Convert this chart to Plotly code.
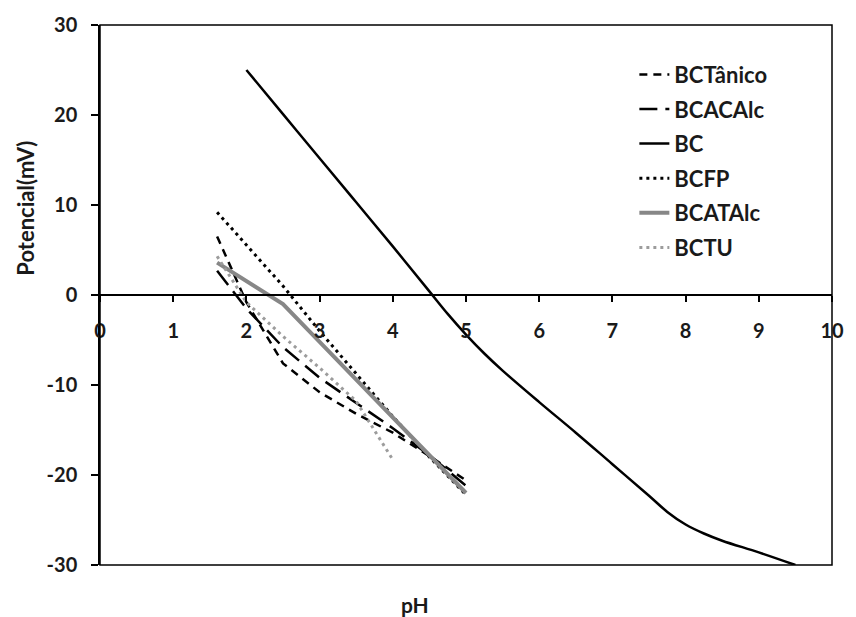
import plotly.graph_objects as go

# ---- data ----
ph_short = [1.6, 2.0, 2.5, 3.0, 3.5, 4.0, 4.5, 5.0]

bct_tanico = [6.5, -0.8, -7.6, -10.8, -13.2, -15.3, -17.9, -20.6]
bcacalc = [2.7, -1.5, -5.8, -9.2, -12.0, -14.8, -17.8, -21.2]
bcfp = [9.2, 5.5, 1.0, -4.0, -8.8, -13.5, -18.0, -22.2]
bcatalc = [3.6, 1.5, -1.0, -5.2, -9.4, -13.6, -17.8, -22.0]

ph_bctu = [1.6, 2.0, 2.5, 3.0, 3.5, 4.0]
bctu = [4.3, -0.8, -4.6, -8.1, -11.8, -18.3]

ph_bc = [2.0, 2.5, 3.0, 3.5, 4.0, 4.5, 4.75, 5.0, 5.25, 5.5, 6.0, 6.5, 7.0,
         7.5, 7.75, 8.0, 8.25, 8.5, 9.0, 9.5]
bc = [25.0, 20.1, 15.2, 10.3, 5.4, 0.4, -2.1, -4.4, -6.5, -8.4, -11.9, -15.3, -18.8,
      -22.3, -24.1, -25.5, -26.5, -27.3, -28.6, -30.0]

x_ticks = list(range(0, 11))
y_ticks = [-30, -20, -10, 0, 10, 20, 30]

FONT = "Lato"

fig = go.Figure()

def add(name, x, y, color, width, dash, shape="linear"):
    fig.add_trace(go.Scatter(
        x=x, y=y, name=name, mode="lines", legendgroup=name,
        line=dict(color=color, width=width, dash=dash, shape=shape),
    ))

add("BCTânico", ph_short, bct_tanico, "black", 2.5, "8px,6px")
add("BCACAlc", ph_short, bcacalc, "black", 2.5, "18px,8px")
add("BC", ph_bc, bc, "black", 2.5, "solid", "spline")
add("BCFP", ph_short, bcfp, "black", 3, "3px,4px")
add("BCATAlc", ph_short, bcatalc, "#878787", 4, "solid")
add("BCTU", ph_bctu, bctu, "#9c9c9c", 3, "3px,4px")

tickfont = dict(family=FONT, size=20, color="#1a1a1a", weight="bold")

fig.update_layout(
    width=856, height=617,
    margin=dict(l=100, r=16, t=20, b=52),
    paper_bgcolor="white", plot_bgcolor="white",
    showlegend=True,
    legend=dict(
        x=0.73, y=0.947, xanchor="left", yanchor="top",
        bgcolor="rgba(0,0,0,0)", tracegroupgap=3,
        font=dict(family=FONT, size=22, color="#1a1a1a", weight="bold"),
    ),
    xaxis=dict(
        range=[0, 10], tickvals=x_ticks, ticktext=[str(v) for v in x_ticks],
        anchor="free", position=0.5,
        showline=True, linecolor="black", linewidth=1.5,
        ticks="outside", ticklen=6, tickcolor="black", tickwidth=1.5,
        showgrid=False, zeroline=False, tickfont=tickfont,
        ticklabelstandoff=12,
    ),
    yaxis=dict(
        range=[-30, 30], tickvals=y_ticks, ticktext=[str(v) for v in y_ticks],
        showline=True, linecolor="black", linewidth=1.5,
        ticks="outside", ticklen=7, tickcolor="black", tickwidth=1.5,
        showgrid=False, zeroline=False, tickfont=tickfont,
        ticklabelstandoff=10,
    ),
    shapes=[dict(type="rect", xref="paper", yref="paper", x0=0, x1=1, y0=0, y1=1,
                 line=dict(color="black", width=1.5), layer="above")],
    annotations=[
        dict(text="pH", xref="paper", yref="paper", x=0.431, y=-0.073,
             xanchor="center", yanchor="middle", showarrow=False,
             font=dict(family=FONT, size=21, color="#1a1a1a", weight="bold")),
        dict(text="Potencial(mV)", xref="paper", yref="paper", x=-0.101, y=0.66,
             xanchor="center", yanchor="middle", showarrow=False, textangle=-90,
             font=dict(family=FONT, size=22, color="#1a1a1a", weight="bold")),
    ],
)

fig.write_html("out.html")
